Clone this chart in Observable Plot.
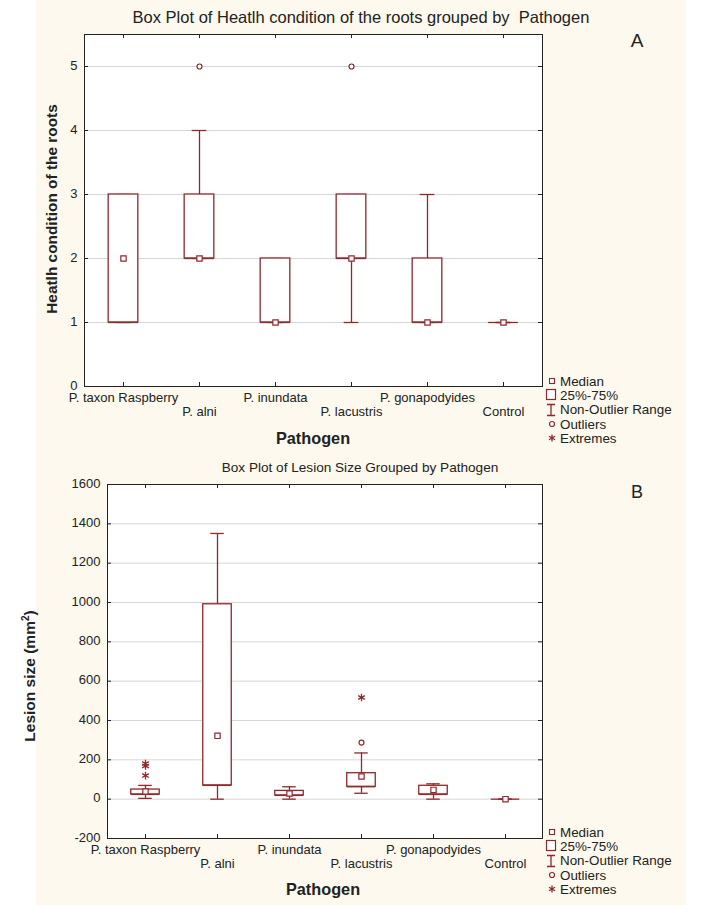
<!DOCTYPE html>
<html><head><meta charset="utf-8">
<script src="https://cdn.jsdelivr.net/npm/d3@7"></script>
<script src="https://cdn.jsdelivr.net/npm/@observablehq/plot@0.6"></script>
<style>
body{margin:0;background:#fff;font-family:Arial,"Liberation Sans",sans-serif;}
#root{position:relative;width:720px;height:905px;overflow:hidden;background:#fff;}
#cream{position:absolute;left:36px;top:0;width:650px;height:905px;background:#fdf9ee;}
.abs{position:absolute;white-space:pre;color:#222;line-height:1;}
.c{transform:translate(-50%,-50%);}
.rot{transform:translate(-50%,-50%) rotate(-90deg);}
.legend{position:absolute;font-size:13.4px;color:#222;}
.legend div{height:14.3px;display:flex;align-items:center;white-space:pre;}
.legend svg{width:16px;height:14px;flex:none;}
.plotbox{position:absolute;left:0;}
</style></head><body><div id="root"><div id="cream"></div></div>
<script>
// ---------- data ----------
const categories = ["P. taxon Raspberry","P. alni","P. inundata","P. lacustris","P. gonapodyides","Control"];

// Panel A: health condition of the roots
const healthQ1     = [1, 2, 1, 2, 1, 1];
const healthQ3     = [3, 3, 2, 3, 2, 1];
const healthMedian = [2, 2, 1, 2, 1, 1];
const healthLow    = [1, 2, 1, 1, 1, 1];
const healthHigh   = [3, 4, 2, 3, 3, 1];
const healthOutlierCats = ["P. alni", "P. lacustris"];
const healthOutlierVals = [5, 5];
const healthExtremeCats = [];
const healthExtremeVals = [];
const healthTicks = [0, 1, 2, 3, 4, 5];

// Panel B: lesion size
const lesionQ1     = [24, 70, 19, 63, 24, 0];
const lesionQ3     = [49, 991, 42, 132, 68, 0];
const lesionMedian = [39, 322, 29, 115, 47, 0];
const lesionLow    = [4, 0, 0, 30, 0, 0];
const lesionHigh   = [70, 1351, 63, 235, 78, 0];
const lesionOutlierCats = ["P. lacustris"];
const lesionOutlierVals = [288];
const lesionExtremeCats = ["P. taxon Raspberry", "P. taxon Raspberry", "P. taxon Raspberry", "P. lacustris"];
const lesionExtremeVals = [181, 169, 120, 517];
const lesionTicks = [-200, 0, 200, 400, 600, 800, 1000, 1200, 1400, 1600];

const legendLabels = ["Median", "25%-75%", "Non-Outlier Range", "Outliers", "Extremes"];

// ---------- drawing ----------
const C = "#93262b";
const INK = "#222";

function panel(o) {
  const rows = categories.map((c, i) => ({cat: c, q1: o.q1[i], q3: o.q3[i], med: o.med[i], lo: o.lo[i], hi: o.hi[i]}));
  const outliers = o.outCats.map((c, i) => ({cat: c, v: o.outVals[i]}));
  const extremes = o.extCats.map((c, i) => ({cat: c, v: o.extVals[i]}));
  const width = 720;
  const innerW = width - o.marginLeft - o.marginRight;
  const innerH = o.height - o.marginTop - o.marginBottom;
  const step = innerW / categories.length;
  const boxInset = (step - o.boxW) / 2, capInset = (step - o.capW) / 2;
  const even = categories.filter((d, i) => i % 2 === 0);
  const odd = categories.filter((d, i) => i % 2 === 1);
  const sw = 1.3;
  return Plot.plot({
    width, height: o.height,
    marginTop: o.marginTop, marginBottom: o.marginBottom, marginLeft: o.marginLeft, marginRight: o.marginRight,
    x: {type: "band", domain: categories, padding: 0, axis: null},
    y: {domain: o.yDomain, axis: null},
    style: {background: "transparent", fontFamily: "Arial, 'Liberation Sans', sans-serif", fontSize: "13px", overflow: "visible"},
    marks: [
      Plot.frame({fill: "white"}),
      Plot.ruleY(o.ticks, {stroke: "#d6d6d6", strokeWidth: 1}),
      Plot.ruleY(o.ticks, {insetRight: innerW - 4, stroke: INK}),
      Plot.ruleY(o.ticks, {insetLeft: innerW - 4, stroke: INK}),
      Plot.ruleX(categories, {x: d => d, insetTop: innerH - 4, stroke: INK}),
      Plot.ruleX(categories, {x: d => d, insetBottom: innerH - 4, stroke: INK}),
      Plot.ruleX(rows, {x: "cat", y1: "q3", y2: "hi", stroke: C, strokeWidth: sw}),
      Plot.ruleX(rows, {x: "cat", y1: "lo", y2: "q1", stroke: C, strokeWidth: sw}),
      Plot.tickY(rows, {x: "cat", y: "hi", insetLeft: capInset, insetRight: capInset, stroke: C, strokeWidth: sw}),
      Plot.tickY(rows, {x: "cat", y: "lo", insetLeft: capInset, insetRight: capInset, stroke: C, strokeWidth: sw}),
      Plot.barY(rows, {x: "cat", y1: "q1", y2: "q3", fill: "white", stroke: C, strokeWidth: sw, insetLeft: boxInset, insetRight: boxInset}),
      Plot.tickY(rows, {x: "cat", y: "q1", insetLeft: boxInset, insetRight: boxInset, stroke: C, strokeWidth: sw}),
      Plot.dot(rows, {x: "cat", y: "med", symbol: "square", r: 3, fill: "white", stroke: C, strokeWidth: 1.2}),
      Plot.dot(outliers, {x: "cat", y: "v", symbol: "circle", r: 2.5, fill: "white", stroke: C, strokeWidth: 1.2}),
      Plot.dot(extremes, {x: "cat", y: "v", symbol: "asterisk", r: 3.6, stroke: C, strokeWidth: 1.3}),
      Plot.frame({stroke: INK}),
      Plot.text(o.ticks, {y: d => d, text: d => String(d), frameAnchor: "left", dx: -7, dy: -1, textAnchor: "end", fill: INK, fontSize: 13}),
      Plot.text(even, {x: d => d, frameAnchor: "bottom", dy: 15, fill: INK, fontSize: 13}),
      Plot.text(odd, {x: d => d, frameAnchor: "bottom", dy: 29, fill: INK, fontSize: 13})
    ]
  });
}

const root = document.getElementById("root");

function addPlot(svg, top) {
  const wrap = document.createElement("div");
  wrap.className = "plotbox";
  wrap.style.top = top + "px";
  wrap.appendChild(svg);
  root.appendChild(wrap);
}

function addText(txt, x, y, size, weight, cls) {
  const d = document.createElement("div");
  d.className = "abs " + cls;
  d.textContent = txt;
  d.style.left = x + "px";
  d.style.top = y + "px";
  d.style.fontSize = size + "px";
  d.style.fontWeight = weight;
  root.appendChild(d);
}

const legendIcons = [
  `<svg viewBox="0 0 16 14"><rect x="5.5" y="4.5" width="5" height="5" fill="white" stroke="${C}" stroke-width="1.1"/></svg>`,
  `<svg viewBox="0 0 16 14"><rect x="2.5" y="1.5" width="9" height="10" fill="white" stroke="${C}" stroke-width="1.2"/></svg>`,
  `<svg viewBox="0 0 16 14"><path d="M3 1.5H11M7 1.5V12.5M3 12.5H11" fill="none" stroke="${C}" stroke-width="1.3"/></svg>`,
  `<svg viewBox="0 0 16 14"><circle cx="8" cy="7" r="2.5" fill="white" stroke="${C}" stroke-width="1.2"/></svg>`,
  `<svg viewBox="0 0 16 14"><path d="M8 3.5V10.5M5 5.2L11 8.8M5 8.8L11 5.2" fill="none" stroke="${C}" stroke-width="1.3"/></svg>`
];

function addLegend(x, y) {
  const lg = document.createElement("div");
  lg.className = "legend";
  lg.style.left = x + "px";
  lg.style.top = y + "px";
  lg.innerHTML = legendLabels.map((l, i) => `<div>${legendIcons[i]}<span>${l}</span></div>`).join("");
  root.appendChild(lg);
}

// Panel A
addPlot(panel({
  q1: healthQ1, q3: healthQ3, med: healthMedian, lo: healthLow, hi: healthHigh,
  outCats: healthOutlierCats, outVals: healthOutlierVals, extCats: healthExtremeCats, extVals: healthExtremeVals,
  ticks: healthTicks, yDomain: [0, 5.5],
  height: 450, marginTop: 34, marginBottom: 64, marginLeft: 84, marginRight: 178,
  boxW: 30, capW: 15
}), 0);

// Panel B
addPlot(panel({
  q1: lesionQ1, q3: lesionQ3, med: lesionMedian, lo: lesionLow, hi: lesionHigh,
  outCats: lesionOutlierCats, outVals: lesionOutlierVals, extCats: lesionExtremeCats, extVals: lesionExtremeVals,
  ticks: lesionTicks, yDomain: [-200, 1600],
  height: 455, marginTop: 34, marginBottom: 67, marginLeft: 107, marginRight: 178,
  boxW: 29, capW: 14
}), 450);

addText("Box Plot of Heatlh condition of the roots grouped by  Pathogen", 361, 17, 16.5, "normal", "c");
addText("Heatlh condition of the roots", 52, 209, 15.4, "bold", "rot");
addText("Pathogen", 313, 438, 16.3, "bold", "c");
addText("A", 637, 40, 19, "normal", "c");
addLegend(544, 374);

addText("Box Plot of Lesion Size Grouped by Pathogen", 360, 468, 13.6, "normal", "c");
const yl = document.createElement("div");
yl.className = "abs rot";
yl.style.left = "30px"; yl.style.top = "676px"; yl.style.fontSize = "15.5px"; yl.style.fontWeight = "bold";
yl.innerHTML = "Lesion size (mm<sup style=\"font-size:10px;vertical-align:6px;line-height:0\">2</sup>)";
root.appendChild(yl);
addText("Pathogen", 323, 889, 16.3, "bold", "c");
addText("B", 637, 492, 18, "normal", "c");
addLegend(544, 825);
</script></body></html>
